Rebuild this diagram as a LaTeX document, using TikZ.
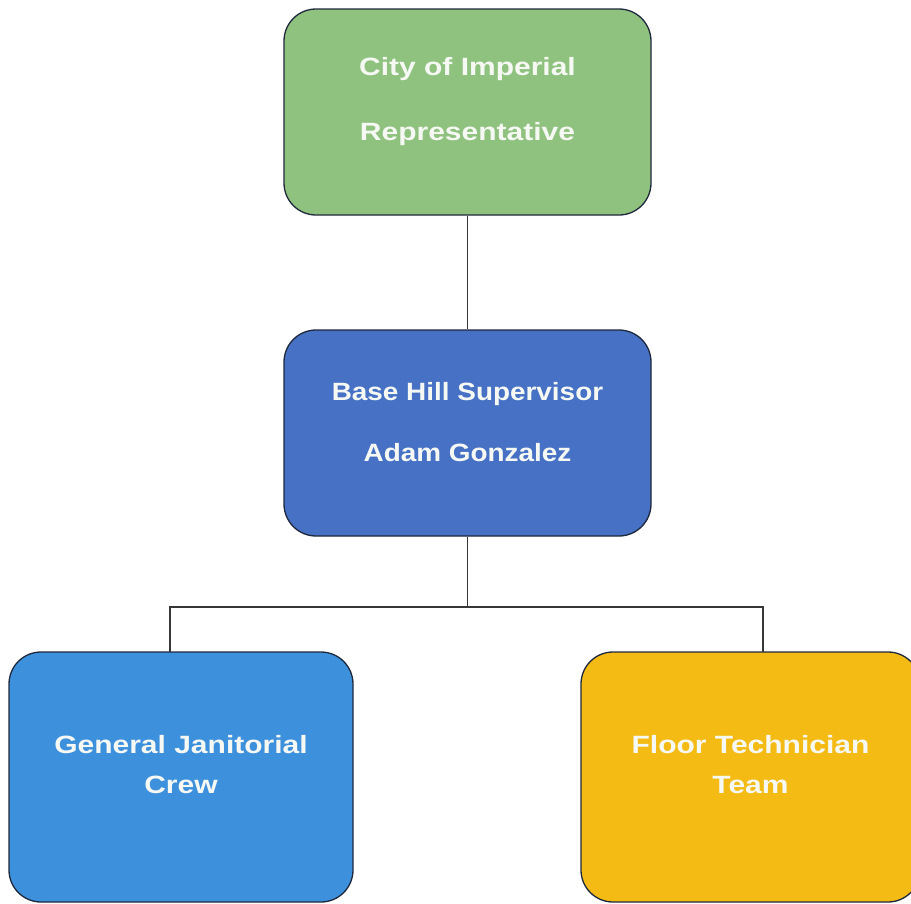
\documentclass[tikz,border=0pt]{standalone}
\usepackage{graphicx}
\usepackage{fontspec}
\setmainfont{Liberation Sans}[FakeStretch=1.2]

\definecolor{repgreen}{RGB}{143,194,126}
\definecolor{supblue}{RGB}{70,113,196}
\definecolor{crewblue}{RGB}{61,145,220}
\definecolor{teamyellow}{RGB}{244,187,20}
\definecolor{boxline}{RGB}{30,40,60}
\definecolor{wirecol}{RGB}{55,55,55}
\definecolor{txtwhite}{RGB}{246,248,244}

\begin{document}
\begin{tikzpicture}[x=1pt, y=-1pt,
  box/.style={draw=boxline, line width=1.3pt, rounded corners=32pt, inner sep=0pt},
  txt/.style={anchor=base, inner sep=0pt, text=txtwhite, font=\fontsize{25}{30}\selectfont\bfseries},
  wire/.style={draw=wirecol, line width=1.2pt}]
  \clip (0,0) rectangle (911,903);

  \node[box, fill=repgreen, minimum width=367pt, minimum height=206pt] (rep) at (467.5, 112) {};
  \node[txt] (rep1) at (467.5, 75) {City of Imperial};
  \node[txt] (rep2) at (467.5, 140) {Representative};

  \node[box, fill=supblue, minimum width=367pt, minimum height=206pt] (sup) at (467.5, 433) {};
  \node[txt] (sup1) at (467.5, 400) {\scalebox{0.93}[1]{Base Hill Supervisor}};
  \node[txt] (sup2) at (467.5, 461) {\scalebox{0.93}[1]{Adam Gonzalez}};
  \draw[wire] (rep) -- (sup);

  \node[box, fill=crewblue, minimum width=344pt, minimum height=250pt] (crew) at (181, 777) {};
  \node[txt] (crew1) at (181, 753) {General Janitorial};
  \node[txt] (crew2) at (181, 793) {Crew};

  \node[box, fill=teamyellow, minimum width=339pt, minimum height=250pt] (team) at (750.5, 777) {};
  \node[txt] (team1) at (750.5, 753) {Floor Technician};
  \node[txt] (team2) at (750.5, 793) {Team};

  \coordinate (split) at (467.5, 607);
  \coordinate (crewtop) at (170, 652);
  \coordinate (teamtop) at (763, 652);
  \draw[wire] (sup) -- (split);
  \draw[wire] (crewtop) |- (split) -| (teamtop);
\end{tikzpicture}
\end{document}
